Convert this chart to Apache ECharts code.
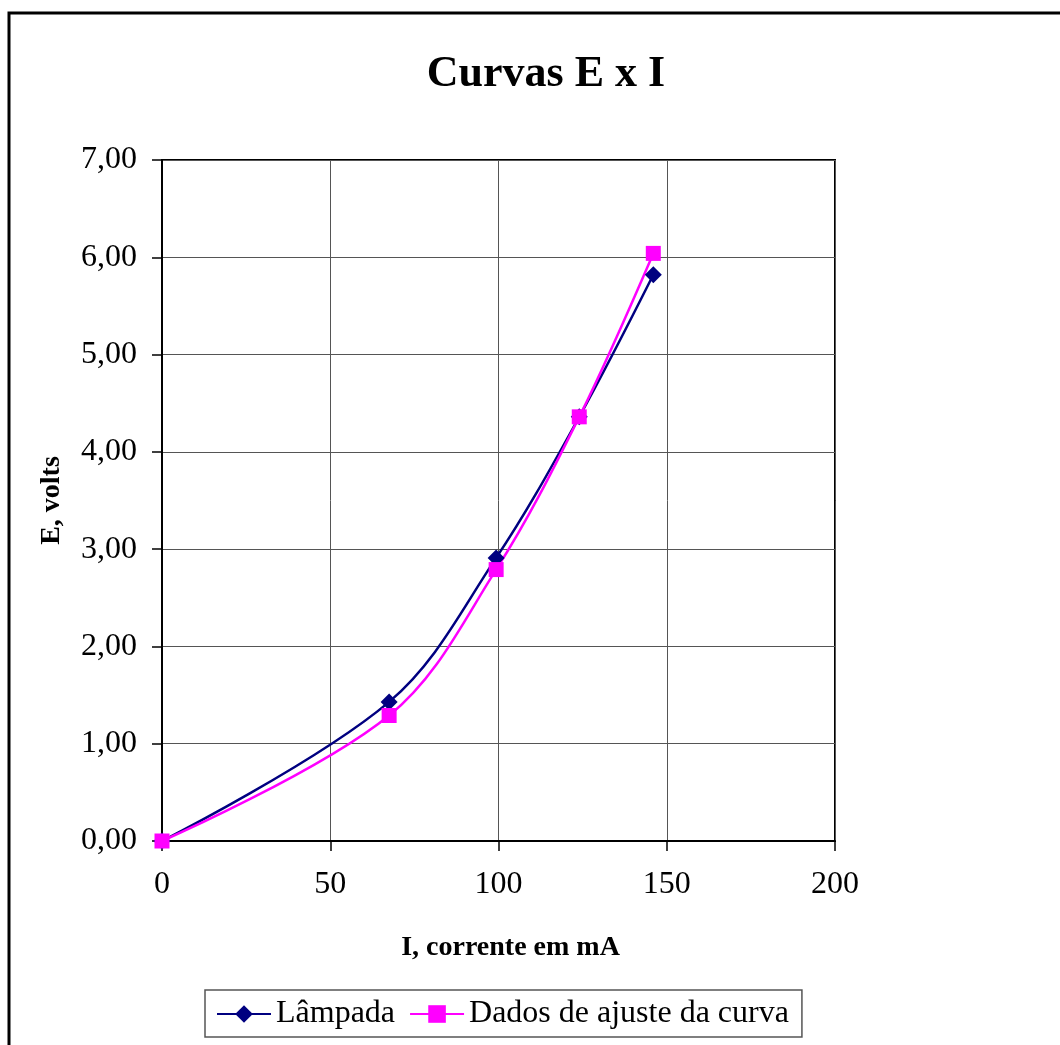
<!DOCTYPE html>
<html>
<head>
<meta charset="utf-8">
<script src="https://cdn.jsdelivr.net/npm/echarts@6/dist/echarts.min.js"></script>
<style>html,body{margin:0;padding:0;background:#fff;}#c{width:1060px;height:1045px;}</style>
</head>
<body>
<div id="c"></div>
<script>
const currentX = [0, 67.5, 99.3, 124, 146];
const lampada = [0, 1.43, 2.91, 4.36, 5.82];
const ajuste = [0, 1.29, 2.79, 4.36, 6.04];
const seriesNames = ['Lâmpada', 'Dados de ajuste da curva'];

const font = '"Liberation Serif", "Times New Roman", serif';
const chart = echarts.init(document.getElementById('c'));
chart.setOption({
  backgroundColor: '#fff',
  animation: false,
  title: {
    text: 'Curvas E x I', left: 541, top: 48, textAlign: 'center',
    textStyle: {fontFamily: font, fontSize: 44, fontWeight: 'bold', color: '#000'}
  },
  graphic: [{
    type: 'rect', shape: {x: 9, y: 13, width: 1060, height: 1040},
    style: {fill: 'none', stroke: '#000', lineWidth: 3}, silent: true, z: -1
  }],
  grid: {left: 162, right: 225, top: 160, bottom: 204, show: true, borderColor: '#000', borderWidth: 2, backgroundColor: 'transparent'},
  legend: {
    left: 205, top: 990,
    data: seriesNames,
    borderColor: '#555', borderWidth: 1.5,
    padding: [8, 13, 7, 11],
    itemWidth: 54, itemHeight: 22, itemGap: 14,
    textStyle: {fontFamily: font, fontSize: 32, color: '#000'}
  },
  xAxis: {
    type: 'value', min: 0, max: 200, interval: 50,
    name: 'I, corrente em mA', nameLocation: 'middle', nameGap: 93,
    nameTextStyle: {fontFamily: font, fontSize: 28, fontWeight: 'bold', color: '#000', padding: [0, 0, 0, 24]},
    axisLine: {show: true, lineStyle: {color: '#000', width: 2}},
    axisTick: {show: true, inside: false, length: 10, lineStyle: {color: '#000', width: 1.5}},
    axisLabel: {fontFamily: font, fontSize: 32, color: '#000', margin: 28},
    splitLine: {show: true, lineStyle: {color: '#555', width: 1}}
  },
  yAxis: {
    type: 'value', min: 0, max: 7, interval: 1,
    name: 'E, volts', nameLocation: 'middle', nameGap: 96,
    nameTextStyle: {fontFamily: font, fontSize: 28, fontWeight: 'bold', color: '#000'},
    axisLine: {show: true, lineStyle: {color: '#000', width: 2}},
    axisTick: {show: true, inside: false, length: 10, lineStyle: {color: '#000', width: 1.5}},
    axisLabel: {fontFamily: font, fontSize: 32, color: '#000', margin: 25,
      formatter: v => v.toFixed(2).replace('.', ',')},
    splitLine: {show: true, lineStyle: {color: '#555', width: 1}}
  },
  series: [
    {
      name: seriesNames[0], type: 'line', smooth: 0.35,
      data: currentX.map((x, i) => [x, lampada[i]]),
      symbol: 'diamond', symbolSize: 17,
      lineStyle: {color: '#000080', width: 2.5},
      itemStyle: {color: '#000080'}
    },
    {
      name: seriesNames[1], type: 'line', smooth: 0.35,
      data: currentX.map((x, i) => [x, ajuste[i]]),
      symbol: 'rect', symbolSize: 15,
      lineStyle: {color: '#FF00FF', width: 2.5},
      itemStyle: {color: '#FF00FF'}
    }
  ]
});
</script>
</body>
</html>
